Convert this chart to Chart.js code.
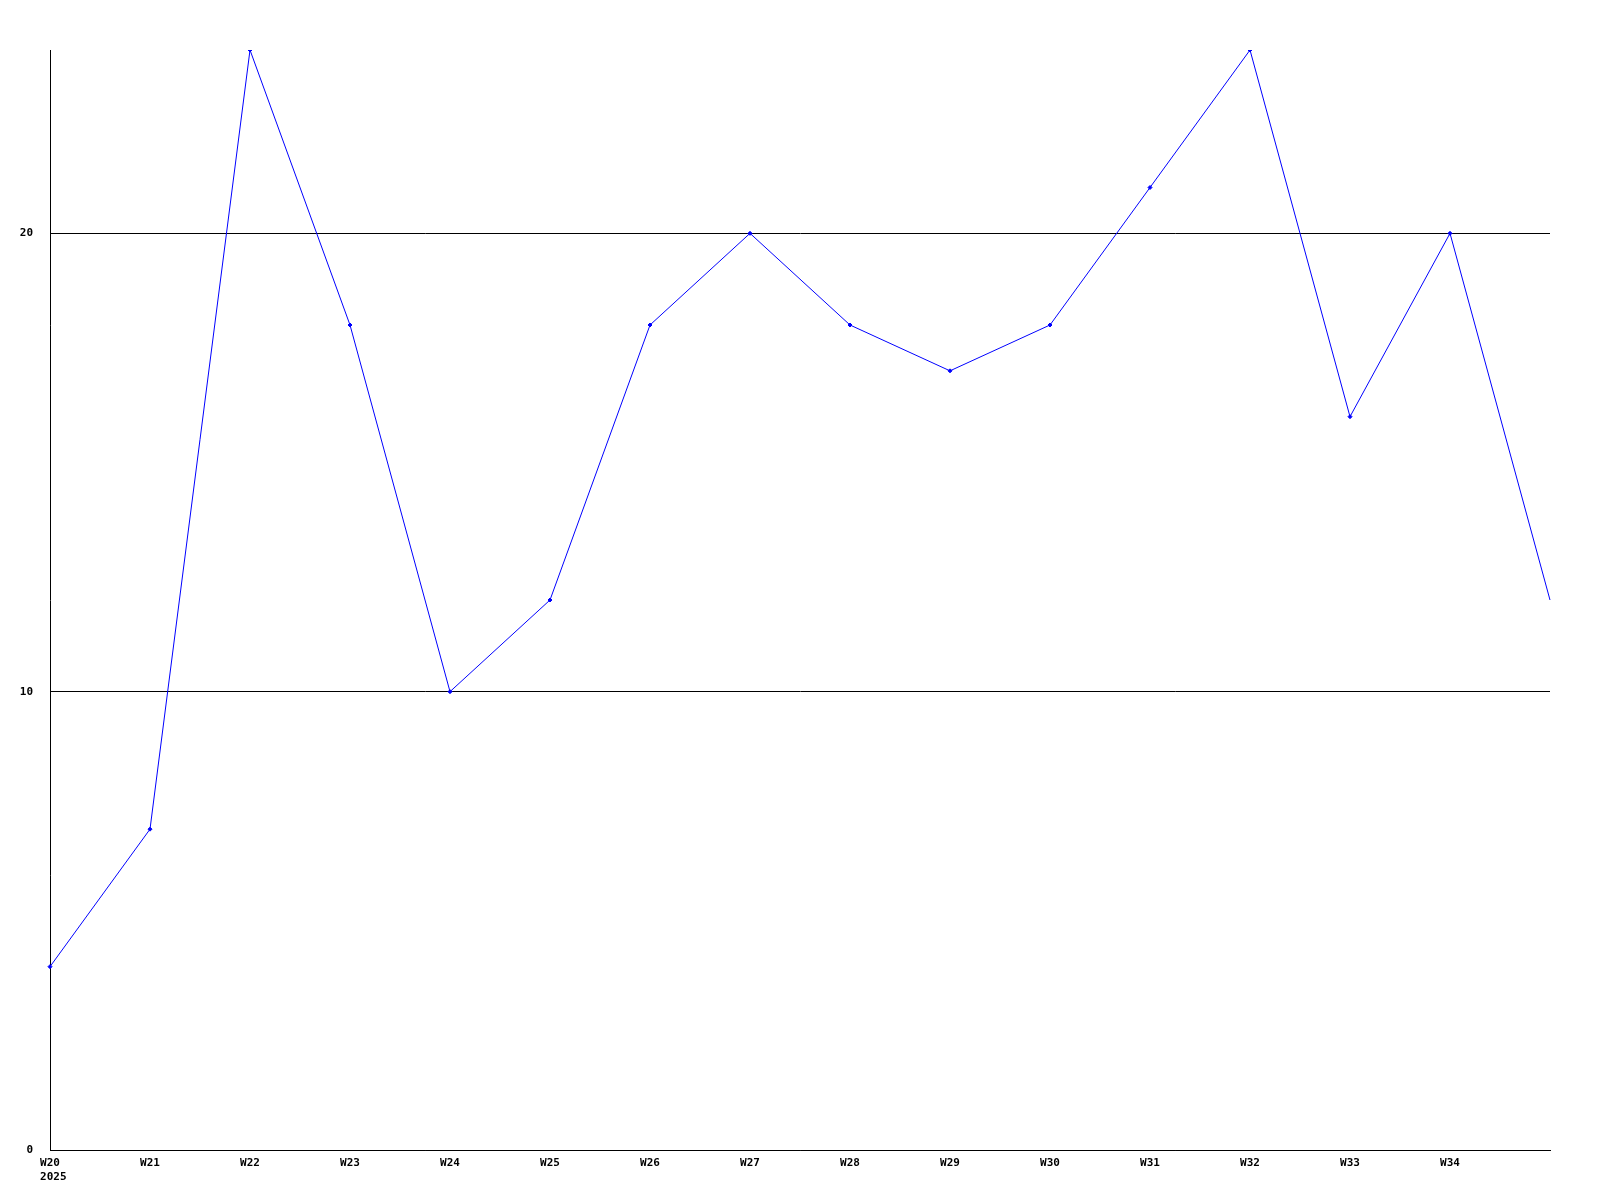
<!DOCTYPE html>
<html>
<head>
<meta charset="utf-8">
<script src="https://cdn.jsdelivr.net/npm/chart.js@4/dist/chart.umd.min.js"></script>
<style>
  html, body { margin: 0; padding: 0; background: #fff; }
  #wrap { width: 1600px; height: 1200px; }
</style>
</head>
<body>
<div id="wrap"><canvas id="weekChart" width="1600" height="1200"></canvas></div>
<script>
// Тижні та значення
const weeks = ['W20', 'W21', 'W22', 'W23', 'W24', 'W25', 'W26', 'W27', 'W28', 'W29', 'W30', 'W31', 'W32', 'W33', 'W34', ''];
const counts = [4, 7, 24, 18, 10, 12, 18, 20, 18, 17, 18, 21, 24, 16, 20, 12];
const yTicks = [0, 10, 20];
const yMax = 24;
const yearLabel = '2025';

const labelFont = { family: '"DejaVu Sans Mono", monospace', size: 11, weight: 'bold' };

// Рік під першим тижнем, вирівняний по лівому краю
const yearPlugin = {
    id: 'yearLabel',
    afterDraw(chart) {
        const c = chart.ctx;
        const xScale = chart.scales.x;
        c.save();
        c.font = `${labelFont.weight} ${labelFont.size}px ${labelFont.family}`;
        c.fillStyle = '#000';
        c.textBaseline = 'middle';
        c.textAlign = 'left';
        const w = c.measureText(weeks[0]).width;
        const x0 = xScale.getPixelForValue(0) - w / 2;
        c.fillText(yearLabel, x0, xScale.bottom - xScale.height + 27);
        c.restore();
    }
};

const ctx = document.getElementById('weekChart').getContext('2d');

new Chart(ctx, {
    type: 'line',
    plugins: [yearPlugin],
    data: {
        labels: weeks,
        datasets: [{
            data: counts,
            borderColor: '#0000ff',
            backgroundColor: '#0000ff',
            borderWidth: 1,
            tension: 0,
            pointStyle: 'rectRot',
            pointRadius: (c) => c.dataIndex === counts.length - 1 ? 0 : 2,
            pointBorderWidth: 1,
            fill: false
        }]
    },
    options: {
        responsive: false,
        animation: false,
        devicePixelRatio: 1,
        layout: {
            padding: { top: 50, right: 50, bottom: 0, left: 0 }
        },
        plugins: {
            legend: { display: false },
            tooltip: { enabled: false }
        },
        scales: {
            x: {
                type: 'category',
                offset: false,
                grid: { display: false, drawTicks: false },
                border: { display: true, color: '#000', width: 1 },
                ticks: {
                    color: '#000',
                    font: labelFont,
                    padding: 7,
                    maxRotation: 0,
                    autoSkip: false
                },
                afterFit: (scale) => { scale.height = 50; }
            },
            y: {
                min: 0,
                max: yMax,
                afterBuildTicks: (scale) => {
                    scale.ticks = yTicks.map(v => ({ value: v }));
                },
                grid: { color: '#000', lineWidth: 1, drawTicks: false },
                border: { display: true, color: '#000', width: 1 },
                ticks: {
                    color: '#000',
                    font: labelFont,
                    padding: 17
                },
                afterFit: (scale) => { scale.width = 50; }
            }
        }
    }
});
</script>
</body>
</html>
